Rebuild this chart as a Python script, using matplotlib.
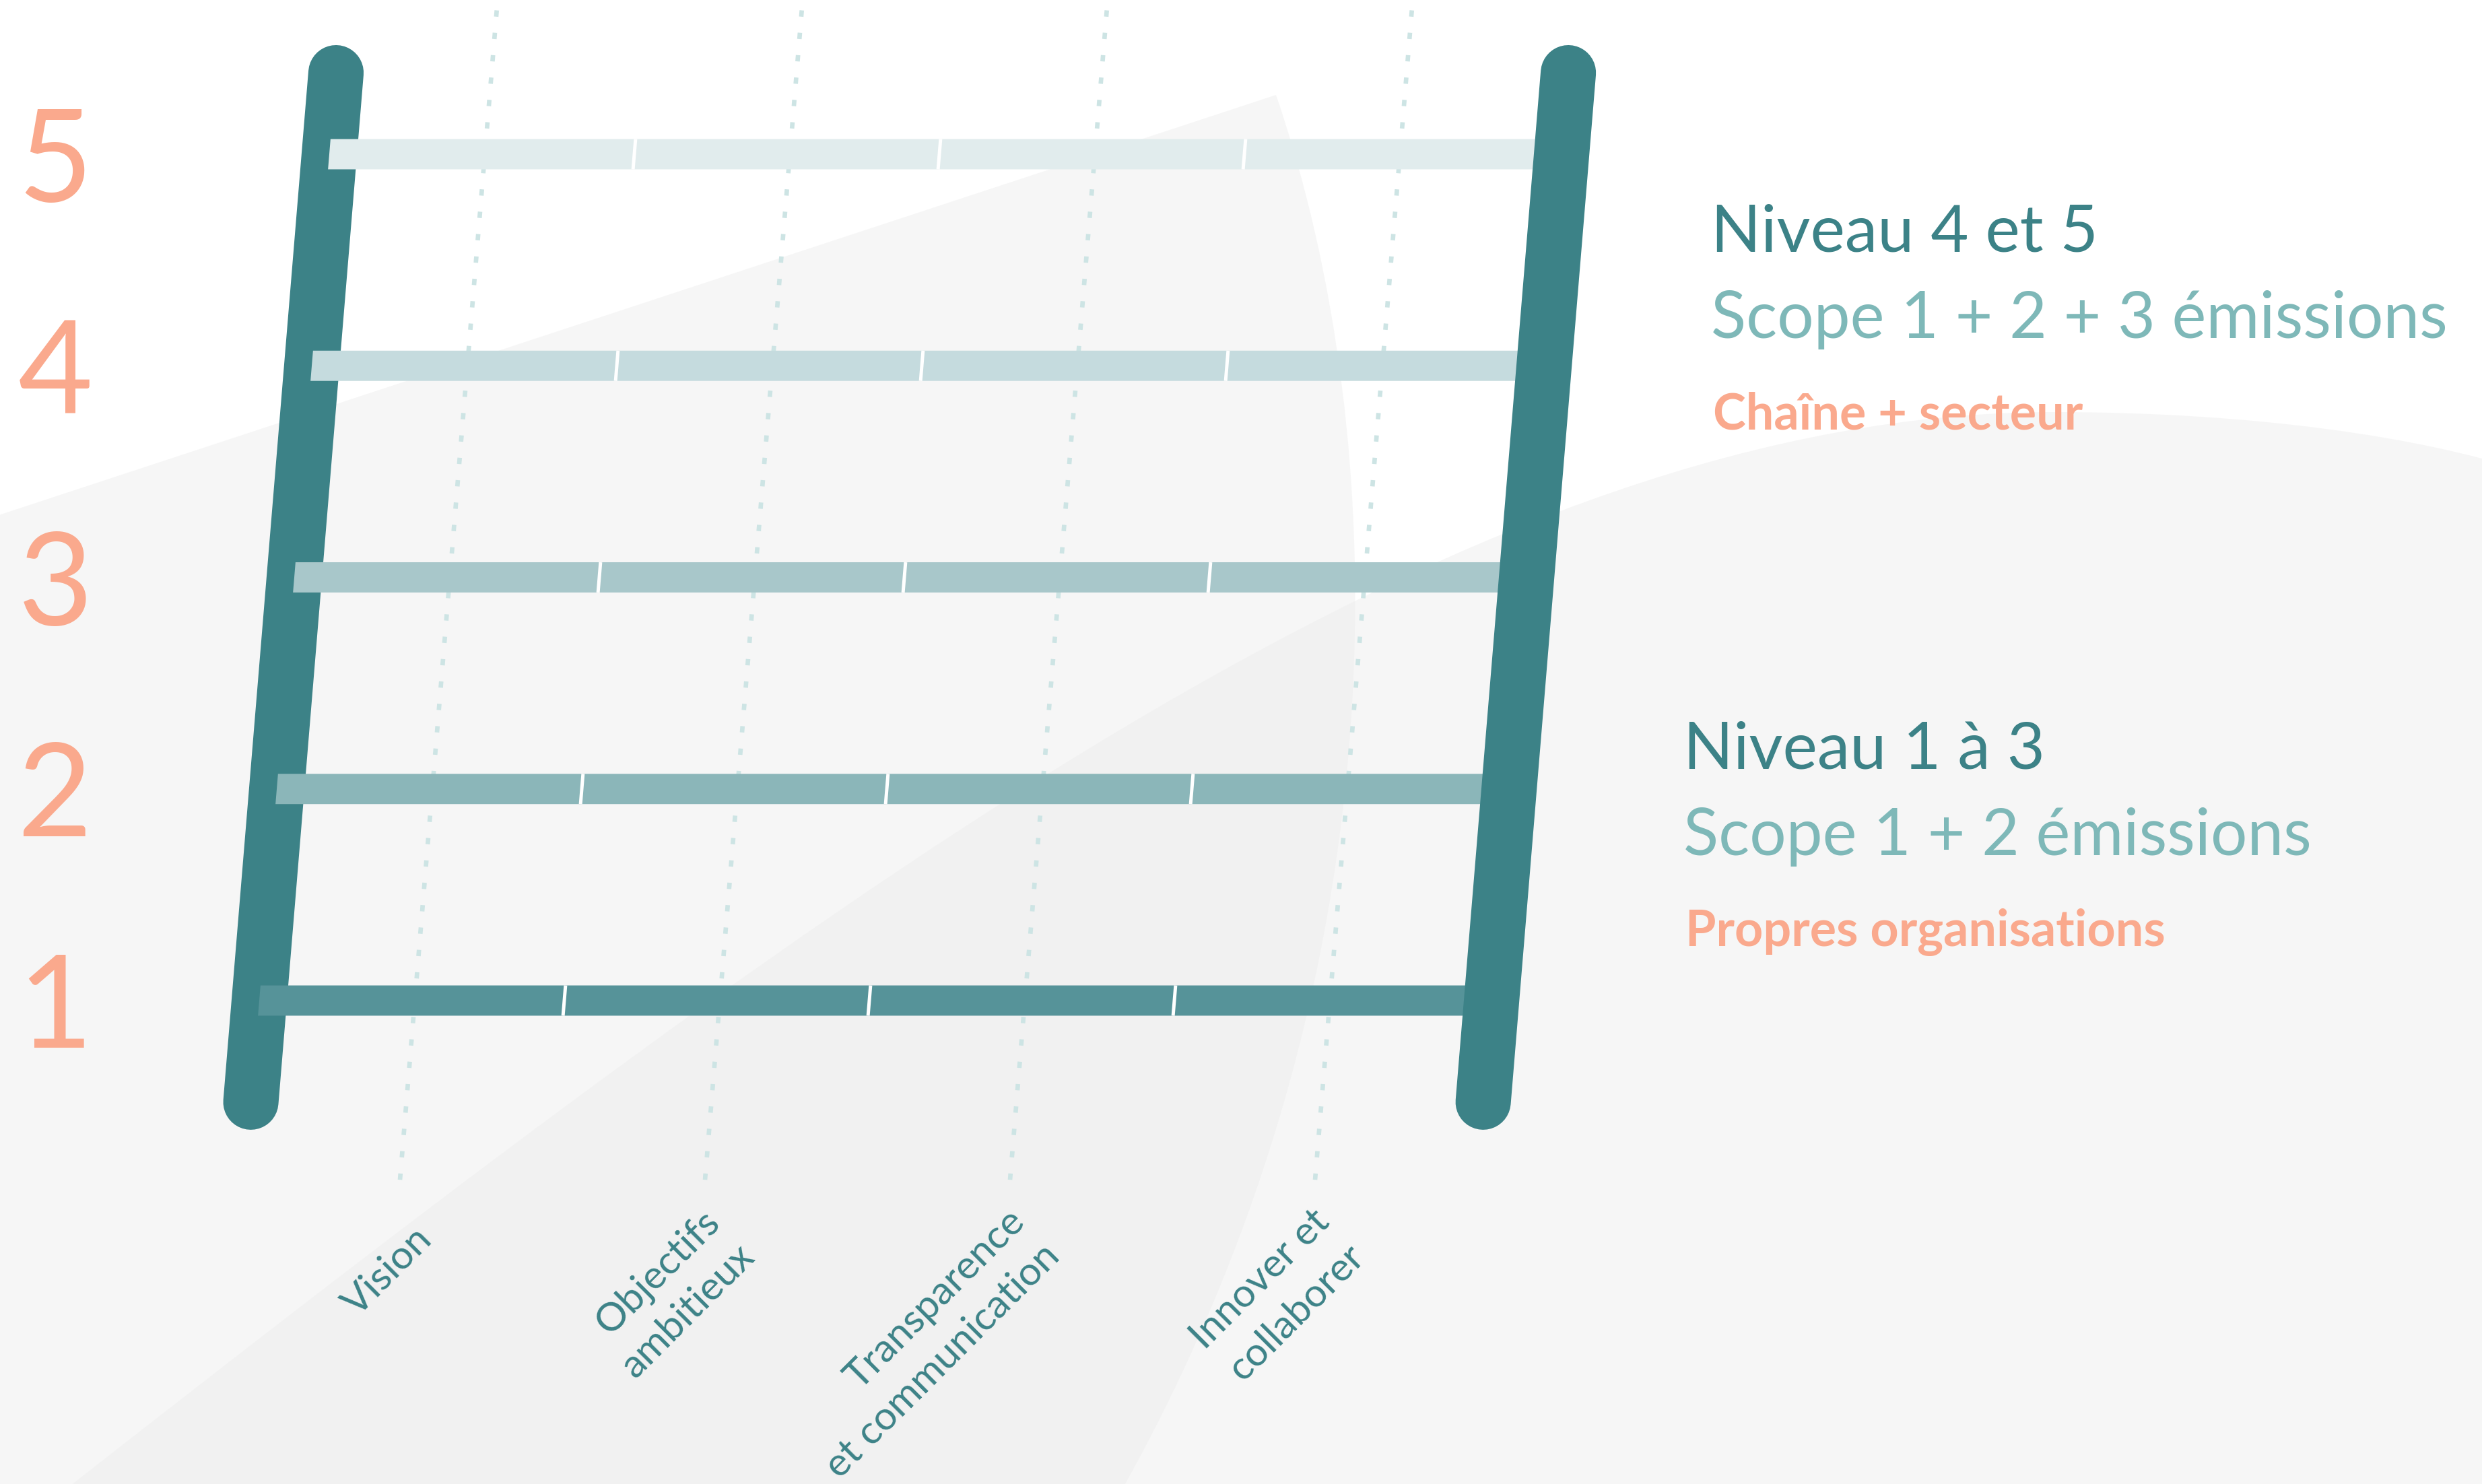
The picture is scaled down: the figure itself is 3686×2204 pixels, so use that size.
import numpy as np
import matplotlib
matplotlib.use("Agg")
from matplotlib import pyplot as plt
from matplotlib.path import Path
from matplotlib.patches import PathPatch
from matplotlib.transforms import Affine2D, blended_transform_factory

# data
levels = np.array([1, 2, 3, 4, 5])
level_labels = ["1", "2", "3", "4", "5"]
rung_colors = ["#569399", "#8BB6B9", "#A8C7CA", "#C5DBDE", "#E1ECED"]
categories = ["Vision", "Objectifs\nambitieux", "Transparence\net communication", "Innover et\ncollaborer"]
group_titles = ["Niveau 4 et 5", "Niveau 1 à 3"]
group_scopes = ["Scope 1 + 2 + 3 émissions", "Scope 1 + 2 émissions"]
group_reach = ["Chaîne + secteur", "Propres organisations"]

# colours
teal = "#3C8287"
teal_light = "#7EB8B8"
salmon = "#FAA98D"
dot_col = "#CDE4E4"

plt.rcParams['font.family'] = ['Lato', 'DejaVu Sans']

W, H = 3687, 2204
fig = plt.figure(figsize=(W / 300, H / 300), dpi=300)
ax = fig.add_axes([0, 0, 1, 1])
ax.set_xlim(0, W)
ax.set_ylim(H, 0)
ax.axis('off')

# ladder space: x = column, y = level, leaning to the left
ladder = Affine2D(np.array([[453.0, 26.0, 359.0],
                            [0.0, -314.25, 1800.25],
                            [0.0, 0.0, 1.0]])) + ax.transData

# background shapes
shade = dict(facecolor="#EDEDED", edgecolor="none", alpha=0.47, zorder=0)
sail = Path([(-20, 771), (1895, 141), (2070, 650), (2090, 1450), (1671, 2204),
             (-20, 2204), (-20, 771)],
            [Path.MOVETO, Path.LINETO, Path.CURVE4, Path.CURVE4, Path.CURVE4,
             Path.LINETO, Path.CLOSEPOLY])
hill = Path([(100, 2210), (1300, 1270), (2200, 612), (3050, 612),
             (3350, 612), (3600, 650), (3750, 700),
             (3750, 2250), (100, 2250), (100, 2210)],
            [Path.MOVETO, Path.CURVE4, Path.CURVE4, Path.CURVE4,
             Path.CURVE4, Path.CURVE4, Path.CURVE4,
             Path.LINETO, Path.LINETO, Path.CLOSEPOLY])
ax.add_patch(PathPatch(sail, **shade))
ax.add_patch(PathPatch(hill, **shade))

# dotted guide lines for each category
ncat = len(categories)
for i in range(ncat):
    ln, = ax.plot([i + 0.51, i + 0.51], [0.153, 5.69], color=dot_col, lw=1.6,
                  transform=ladder, zorder=1)
    ln.set_dashes((1.4, 3.6))
    ln.set_dash_capstyle('butt')

# left rail
ax.plot([0, 0], [0.52, 5.385], color=teal, lw=19.7, solid_capstyle='round',
        transform=ladder, zorder=2)

# rungs: one bar per category segment
h = 0.143
for i in range(ncat):
    w = 1.04 if i == ncat - 1 else 1.0
    ax.barh(levels, w, left=i, height=h, color=rung_colors, transform=ladder, zorder=3)
sep_x = np.repeat(np.arange(1, ncat), len(levels))
ax.vlines(sep_x, np.tile(levels - h / 2, ncat - 1), np.tile(levels + h / 2, ncat - 1),
          colors="white", lw=1.2, transform=ladder, zorder=4)

# right rail
ax.plot([4.04, 4.04], [0.52, 5.385], color=teal, lw=19.7, solid_capstyle='round',
        transform=ladder, zorder=5)

# level numbers
num_tr = blended_transform_factory(ax.transData, ladder) + Affine2D().translate(0, -70)
for lv, lab in zip(levels, level_labels):
    ax.text(82, lv, lab, transform=num_tr, ha='center', va='baseline',
            fontsize=46, fontweight='normal', color=salmon, zorder=6)

# category labels
for i, cat in enumerate(categories):
    ax.text(i + 0.61, -0.1, cat, transform=ladder, rotation=45, rotation_mode='anchor',
            ha='right', va='center', multialignment='right', linespacing=1.45,
            fontsize=14.2, color=teal, zorder=6)

# right-hand notes
blocks_x = [2541, 2500]
blocks_y = [373, 1141]
for bx, by, t, s, r in zip(blocks_x, blocks_y, group_titles, group_scopes, group_reach):
    ax.text(bx, by, t, fontsize=23.3, color=teal, va='baseline', zorder=6)
    ax.text(bx, by + 129, s, fontsize=23.1, color=teal_light, va='baseline', zorder=6)
    ax.text(bx + 3, by + 264, r, fontsize=17.7, fontweight='bold', color=salmon,
            va='baseline', zorder=6)

plt.savefig("out.png", dpi=300, facecolor="white")
